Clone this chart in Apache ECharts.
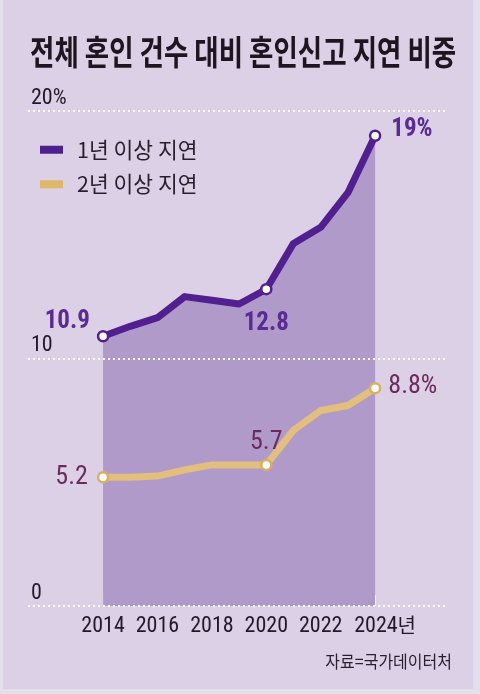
<!DOCTYPE html>
<html>
<head>
<meta charset="utf-8">
<script src="https://cdn.jsdelivr.net/npm/echarts@6/dist/echarts.min.js"></script>
<style>
html,body{margin:0;padding:0;background:#e5deed;}
#c{width:480px;height:694px;}
</style>
</head>
<body>
<div id="c"></div>
<script>
const years = [2014, 2015, 2016, 2017, 2018, 2019, 2020, 2021, 2022, 2023, 2024];
const delay1 = [10.9, 11.3, 11.65, 12.5, 12.35, 12.2, 12.8, 14.65, 15.3, 16.7, 19];
const delay2 = [5.2, 5.2, 5.25, 5.5, 5.7, 5.7, 5.7, 7.1, 7.9, 8.1, 8.8];
const seriesNames = ['1년 이상 지연', '2년 이상 지연'];
const tickYears = [2014, 2016, 2018, 2020, 2022, 2024];
const labeledYears = [2014, 2020, 2024];
const titleText = '전체 혼인 건수 대비 혼인신고 지연 비중';
const sourceText = '자료=국가데이터처';

const NUM_FONT = '"Liberation Sans Narrow", "Roboto Condensed", "DejaVu Sans Condensed", "Liberation Sans", sans-serif';
const KR_FONT = '"Noto Sans CJK KR", sans-serif';
const PURPLE = '#521f90';
const GOLD = '#e2bf7c';
const GOLD_DARK = '#d8b061';

const labelPos1 = {
  2014: {position: 'left', distance: 7, offset: [0, -14]},
  2020: {position: 'bottom', distance: 16, offset: [0, 0]},
  2024: {position: 'right', distance: 10, offset: [0, -6]}
};
const labelPos2 = {
  2014: {position: 'left', distance: 9, offset: [0, 0]},
  2020: {position: 'top', distance: 3, offset: [0, 0]},
  2024: {position: 'right', distance: 7, offset: [0, -2]}
};

function buildData(vals, color, posMap, labelStyle) {
  const last = years[years.length - 1];
  return years.map((y, i) => {
    const labeled = labeledYears.indexOf(y) >= 0;
    const item = {value: [y, vals[i]]};
    if (labeled) {
      item.symbol = 'circle';
      item.symbolSize = 10;
      item.itemStyle = {color: '#fff', borderColor: color, borderWidth: 2.5};
      item.label = Object.assign({
        show: true,
        formatter: (p) => (y === last ? p.value[1] + '%' : String(p.value[1]))
      }, posMap[y], labelStyle);
    } else {
      item.symbol = 'none';
    }
    return item;
  });
}

const chart = echarts.init(document.getElementById('c'));
chart.setOption({
  backgroundColor: '#e5deed',
  animation: false,
  graphic: [
    {type: 'rect', z: -100, silent: true, shape: {x: 3, y: 0, width: 470, height: 689}, style: {fill: '#dbd0e5'}},
    {type: 'text', x: 30, y: 52, scaleY: 1.3, style: {text: titleText, font: 'bold 26.5px ' + KR_FONT, fill: '#1e1520', verticalAlign: 'middle', textAlign: 'left'}},
    {type: 'text', x: 452, y: 661, scaleY: 1.1, style: {text: sourceText, font: '16px ' + KR_FONT, fill: '#2a1f2e', verticalAlign: 'middle', textAlign: 'right'}}
  ],
  legend: {
    orient: 'vertical',
    left: 35,
    top: 134,
    itemWidth: 23,
    itemHeight: 8,
    itemGap: 13,
    icon: 'rect',
    data: [
      {name: seriesNames[0], itemStyle: {color: '#4f1e8f'}},
      {name: seriesNames[1], itemStyle: {color: '#dfb76b'}}
    ],
    textStyle: {fontFamily: KR_FONT, fontSize: 21.5, color: '#2a1d2e', padding: [0, 0, 0, 9]}
  },
  grid: {left: 28, right: 32, top: 111, bottom: 88},
  xAxis: {
    type: 'value',
    min: 2011.24,
    max: 2026.68,
    splitLine: {show: false},
    axisLine: {show: false},
    axisTick: {show: true, inside: true, length: 11, customValues: tickYears, lineStyle: {color: 'rgba(255,255,255,0.85)', width: 1}},
    axisLabel: {
      customValues: tickYears,
      margin: 9,
      fontFamily: NUM_FONT,
      fontSize: 22,
      color: '#22182a',
      formatter: (v) => (v === 2024 ? '{p|}' + v + '{u|년}' : String(v)),
      rich: {
        p: {width: 20, fontSize: 22},
        u: {fontFamily: KR_FONT, fontSize: 20, color: '#22182a', padding: [0, 0, 3, 0]}
      }
    }
  },
  yAxis: {
    type: 'value',
    min: 0,
    max: 20,
    interval: 10,
    z: 3,
    axisLine: {show: false},
    axisTick: {show: false},
    splitLine: {show: true, lineStyle: {color: '#ffffff', width: 2, type: [2, 3]}},
    axisLabel: {
      inside: true,
      margin: 3,
      verticalAlign: 'bottom',
      padding: [0, 0, 2, 0],
      fontFamily: NUM_FONT,
      fontSize: 22,
      color: '#22182a',
      formatter: (v) => (v === 20 ? v + '%' : String(v))
    }
  },
  series: [
    {
      name: seriesNames[0],
      type: 'line',
      z: 2,
      symbol: 'circle',
      itemStyle: {color: '#4f1e8f'},
      lineStyle: {color: PURPLE, width: 7, join: 'round'},
      areaStyle: {color: '#b09ac9', opacity: 1},
      data: buildData(delay1, PURPLE, labelPos1, {fontFamily: NUM_FONT, fontWeight: 'bold', fontSize: 25, color: '#5a2a97'})
    },
    {
      name: seriesNames[1],
      type: 'line',
      z: 2,
      symbol: 'circle',
      itemStyle: {color: '#dfb76b'},
      lineStyle: {color: GOLD, width: 7, join: 'round'},
      data: buildData(delay2, GOLD_DARK, labelPos2, {fontFamily: NUM_FONT, fontSize: 26, color: '#6c2a5c'})
    }
  ]
});
</script>
</body>
</html>
